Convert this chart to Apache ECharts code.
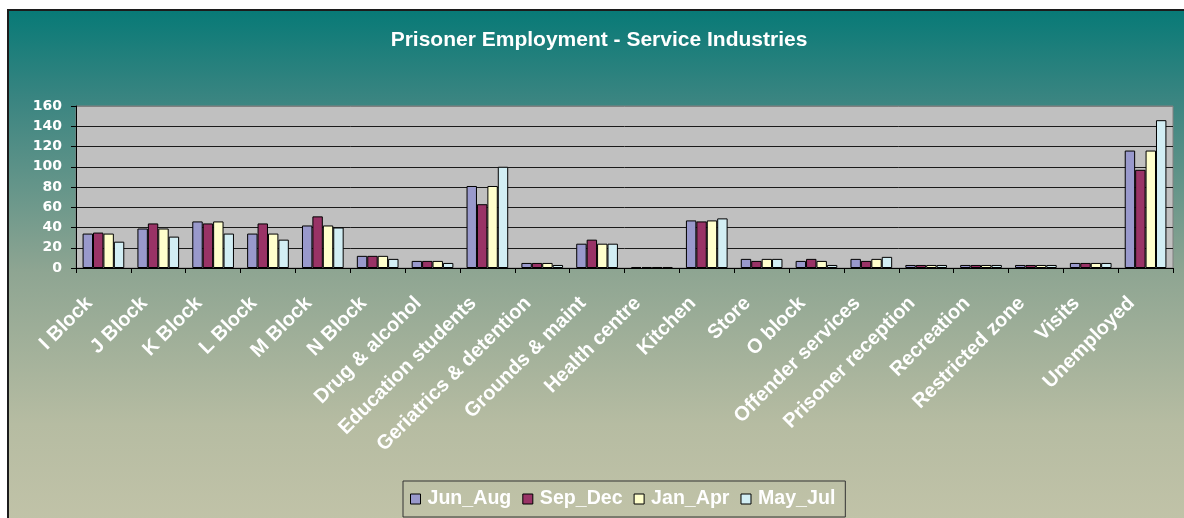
<!DOCTYPE html>
<html><head><meta charset="utf-8">
<script src="https://cdn.jsdelivr.net/npm/echarts@6/dist/echarts.min.js"></script>
<style>
html,body{margin:0;padding:0;width:1184px;height:518px;overflow:hidden;background:#fff;}
#frame{position:absolute;left:7px;top:9px;width:1200px;height:530px;border:2px solid #1c1c1c;
background:linear-gradient(to bottom,#087a77 0%,#3b8581 17%,#8ea592 49%,#b6bca2 78%,#c3c4a9 100%);}
#chart{position:absolute;left:0;top:0;width:1184px;height:518px;}
</style></head>
<body>
<div id="frame"></div>
<div id="chart"></div>
<script>
const categories = ['I Block','J Block','K Block','L Block','M Block','N Block','Drug & alcohol','Education students','Geriatrics & detention','Grounds & maint','Health centre','Kitchen','Store','O block','Offender services','Prisoner reception','Recreation','Restricted zone','Visits','Unemployed'];
const junAug = [34,39,46,34,42,12,7,81,5,24,1,47,9,7,9,3,3,3,5,116];
const sepDec = [35,44,44,44,51,12,7,63,5,28,1,46,7,9,7,3,3,3,5,97];
const janApr = [34,39,46,34,42,12,7,81,5,24,1,47,9,7,9,3,3,3,5,116];
const mayJul = [26,31,34,28,40,9,5,100,3,24,1,49,9,3,11,3,3,3,5,146];
const seriesNames = ['Jun_Aug','Sep_Dec','Jan_Apr','May_Jul'];
const seriesColors = ['#9999cc','#993366','#ffffcc','#d2eef4'];
const yTicks = [0,20,40,60,80,100,120,140,160];

const chart = echarts.init(document.getElementById('chart'));
const arial = "'Liberation Sans', Arial, sans-serif";
const dataSets = [junAug, sepDec, janApr, mayJul];
chart.setOption({
  backgroundColor: 'transparent',
  animation: false,
  title: {
    text: 'Prisoner Employment - Service Industries',
    left: 594, top: 25, textAlign: 'center',
    textStyle: {color:'#fff', fontSize:21, fontWeight:'bold', fontFamily: arial}
  },
  grid: {left:76, right:11, top:106, bottom:250, show:true, backgroundColor:'#c0c0c0', borderColor:'#808080', borderWidth:1},
  legend: {
    data: seriesNames, left: 403, top: 481, icon:'rect', itemWidth:10, itemHeight:10, itemGap:11,
    padding:[8,10,8,7], borderColor:'#333', borderWidth:1,
    itemStyle:{borderColor:'#000', borderWidth:1},
    textStyle:{color:'#fff', fontSize:19.6, fontWeight:'bold', fontFamily: arial, padding:[0,0,0,2]}
  },
  xAxis: {
    type:'category', data: categories,
    axisLine:{show:true, lineStyle:{color:'#000', width:1}},
    axisTick:{show:true, length:5, lineStyle:{color:'#000'}},
    axisLabel:{interval:0, rotate:45, color:'#fff', fontSize:20, fontWeight:'bold', fontFamily: arial, margin:18, padding:[0,20,0,0]}
  },
  yAxis: {
    type:'value', min: yTicks[0], max: yTicks[yTicks.length-1], interval: yTicks[1]-yTicks[0],
    axisLine:{show:true, lineStyle:{color:'#000', width:1}},
    axisTick:{show:true, length:5, lineStyle:{color:'#000'}},
    axisLabel:{color:'#fff', fontSize:14, fontWeight:'bold', fontFamily:"'DejaVu Sans', sans-serif", margin:14},
    splitLine:{show:true, lineStyle:{color:['#1a1a1a','#1a1a1a','#1a1a1a','#1a1a1a','#1a1a1a','#1a1a1a','#1a1a1a','#1a1a1a','#808080'], width:1}}
  },
  series: seriesNames.map((n,i)=>({
    name:n, type:'bar', data: dataSets[i], barGap:'0%', barCategoryGap:'24%',
    itemStyle:{color: seriesColors[i], borderColor:'#000', borderWidth:1}
  }))
});
</script>
</body></html>
